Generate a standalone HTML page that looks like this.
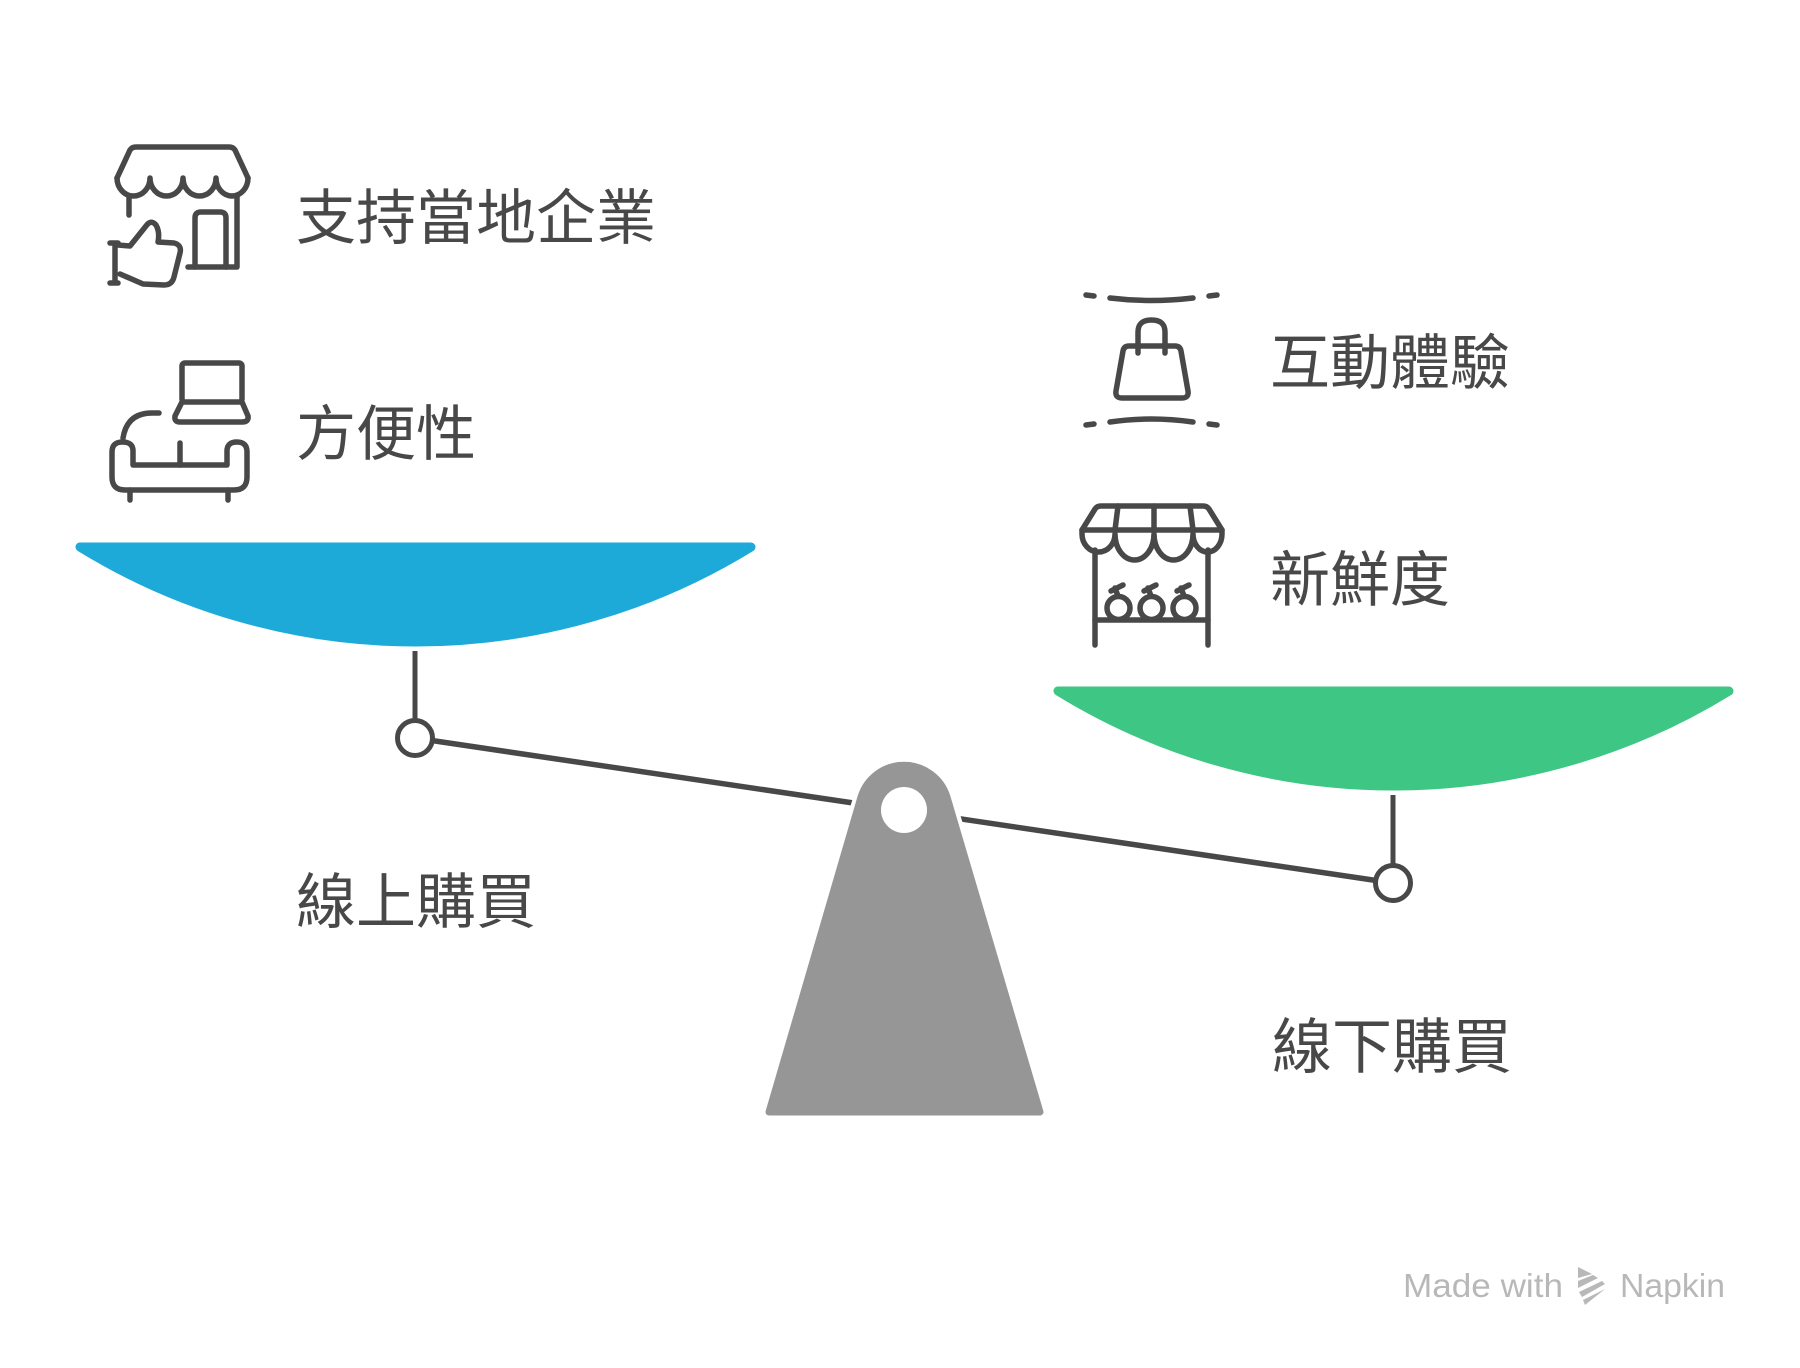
<!DOCTYPE html>
<html>
<head>
<meta charset="utf-8">
<style>
  html, body { margin: 0; padding: 0; background: #ffffff; }
  body { width: 1800px; height: 1368px; overflow: hidden; }
  svg { display: block; }
  .t { font-family: "Liberation Sans", "Noto Sans CJK TC", "Noto Sans CJK SC", sans-serif; font-size: 60px; fill: #484848; }
  .ic { fill: none; stroke: #484848; stroke-width: 5.5; stroke-linecap: round; stroke-linejoin: round; }
</style>
</head>
<body>
<svg width="1800" height="1368" viewBox="0 0 1800 1368" xmlns="http://www.w3.org/2000/svg">
  <rect width="1800" height="1368" fill="#ffffff"/>

  <!-- Blue bowl (left) -->
  <path d="M80,547 L751,547 A640,640 0 0 1 80,547 Z" fill="#1EAAD9" stroke="#1EAAD9" stroke-width="9" stroke-linejoin="round"/>
  <!-- Green bowl (right) -->
  <path d="M1058,691 L1729,691 A640,640 0 0 1 1058,691 Z" fill="#3EC684" stroke="#3EC684" stroke-width="9" stroke-linejoin="round"/>

  <!-- Hangers -->
  <line x1="415" y1="651" x2="415" y2="722" stroke="#484848" stroke-width="5"/>
  <line x1="1393" y1="795" x2="1393" y2="867" stroke="#484848" stroke-width="5"/>

  <!-- Beam -->
  <line x1="415" y1="738" x2="1393" y2="883" stroke="#484848" stroke-width="5.5"/>

  <!-- Fulcrum: white outline gap, then gray fill -->
  <path d="M766,1115 L861,797 A45,45 0 0 1 947,797 L1043,1115 Z" fill="#ffffff" stroke="#ffffff" stroke-width="15" stroke-linejoin="round"/>
  <path d="M769,1112 L861,797 A45,45 0 0 1 947,797 L1040,1112 Z" fill="#969696" stroke="#969696" stroke-width="7" stroke-linejoin="round"/>
  <circle cx="904" cy="810" r="23" fill="#ffffff"/>

  <!-- Circles at beam ends -->
  <circle cx="415" cy="738" r="17.5" fill="#ffffff" stroke="#484848" stroke-width="5"/>
  <circle cx="1393" cy="883" r="17.5" fill="#ffffff" stroke="#484848" stroke-width="5"/>

  <!-- Labels -->
  <text class="t" x="296" y="239">支持當地企業</text>
  <text class="t" x="296" y="455">方便性</text>
  <text class="t" x="1270" y="384">互動體驗</text>
  <text class="t" x="1270" y="601">新鮮度</text>
  <text class="t" x="296" y="923">線上購買</text>
  <text class="t" x="1272" y="1068">線下購買</text>

  <!-- Icon: store with thumbs up -->
  <g class="ic">
    <path d="M117,178 L130,150 Q132,147 136,147 L229,147 Q233,147 235,150 L248,178"/>
    <path d="M117,178 A16.5,18 0 0 0 150,178 A16.5,18 0 0 0 183,178 A16.5,18 0 0 0 216,178 A16,18 0 0 0 248,178"/>
    <path d="M129,197 V215"/>
    <path d="M237,197 V267 H188"/>
    <path d="M195,267 V218 Q195,212 201,212 H220 Q226,212 226,218 V267"/>
    <path d="M110,243 H118 M115,243 V283 M110,283 H118"/>
    <path d="M118,245 L130,246 L146,226 Q151,219 156,225 Q160,232 158,242 L174,243 Q182,245 180,253 L174,277 Q172,285 164,285 L143,284 L120,274"/>
  </g>

  <!-- Icon: sofa with laptop -->
  <g class="ic">
    <rect x="182" y="363" width="60" height="39" rx="3"/>
    <path d="M182,402 L175,416 Q174,422 180,422 H242 Q249,422 248,416 L242,402"/>
    <path d="M159,413 H152 Q127,413 123,438"/>
    <path d="M133,465 V451 Q133,442 122.5,442 Q112,442 112,452 V477 Q112,490 125,490 H234 Q247,490 247,477 V452 Q247,442 237,442 Q227,442 227,451 V465 Z"/>
    <path d="M180,443 V465"/>
    <path d="M130,490 V500 M228,490 V500"/>
  </g>

  <!-- Icon: shopping bag with brackets -->
  <g class="ic" stroke-width="5">
    <path d="M1086,295 L1094,296"/>
    <path d="M1110,298 Q1151,303 1193,298"/>
    <path d="M1209,296 L1217,295"/>
    <path d="M1086,425 L1094,424"/>
    <path d="M1110,422 Q1151,416 1193,422"/>
    <path d="M1209,424 L1217,425"/>
    <path d="M1138,353 V332 Q1138,320 1151.5,320 Q1165,320 1165,332 V353"/>
    <path d="M1129,346 H1175 Q1180,346 1181,351 L1188,391 Q1189,398 1182,398 H1122 Q1115,398 1116,391 L1123,351 Q1124,346 1129,346 Z"/>
  </g>

  <!-- Icon: market stall -->
  <g class="ic">
    <path d="M1082,530 L1095,509 Q1097,506 1101,506 L1203,506 Q1207,506 1209,509 L1222,530 Z"/>
    <path d="M1118,506 L1115,530 M1154,506 L1154,530 M1190,506 L1193,530"/>
    <path d="M1082,530 V534 A16.5,18 0 0 0 1115,534 A19.5,26 0 0 0 1154,534 A19.5,26 0 0 0 1193,534 A14.5,18 0 0 0 1222,534 V530"/>
    <path d="M1095,550 V645 M1208,550 V645"/>
    <path d="M1095,620 H1208"/>
    <circle cx="1118.5" cy="608" r="11.5"/>
    <circle cx="1151.5" cy="608" r="11.5"/>
    <circle cx="1184.5" cy="608" r="11.5"/>
    <path d="M1118,596 L1115,588 M1111,591 L1123,585"/>
    <path d="M1151,596 L1148,588 M1144,591 L1156,585"/>
    <path d="M1184,596 L1181,588 M1177,591 L1189,585"/>
  </g>

  <!-- Made with Napkin -->
  <g fill="#b8b8b8">
    <text x="1403" y="1297" font-family="Liberation Sans, sans-serif" font-size="33" textLength="160" lengthAdjust="spacingAndGlyphs">Made with</text>
    <polygon points="1578,1267 1592,1274 1578,1278"/>
    <polygon points="1578,1281 1593,1275 1598,1278 1578,1288"/>
    <polygon points="1579,1292 1602,1281 1605,1284 1582,1297"/>
    <polygon points="1583,1300 1605,1289 1585,1305"/>
    <text x="1620" y="1297" font-family="Liberation Sans, sans-serif" font-size="33" textLength="105" lengthAdjust="spacingAndGlyphs">Napkin</text>
  </g>
</svg>
</body>
</html>
